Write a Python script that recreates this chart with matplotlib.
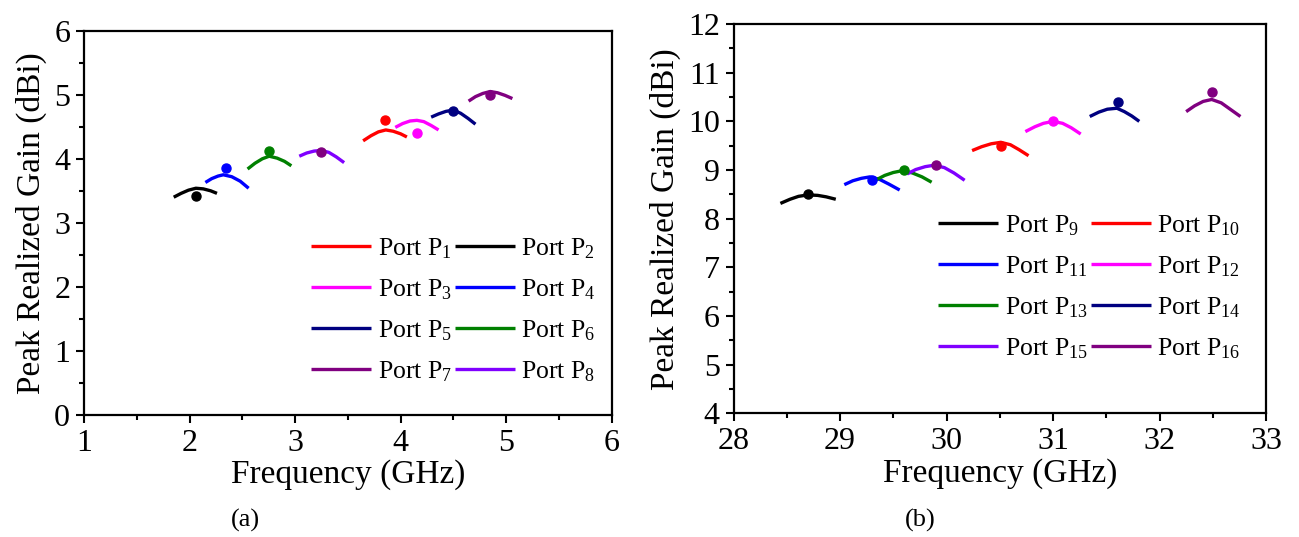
import matplotlib
matplotlib.use('Agg')
import matplotlib.pyplot as plt
from matplotlib.ticker import MultipleLocator

plt.rcParams['font.family'] = ['Liberation Serif', 'DejaVu Serif']
plt.rcParams['mathtext.fontset'] = 'custom'
plt.rcParams['mathtext.rm'] = 'Liberation Serif'
plt.rcParams['mathtext.it'] = 'Liberation Serif:italic'

# (a) low band, frequency in GHz, gain in dBi
ports_a = [1, 2, 3, 4, 5, 6, 7, 8]
colors_a = ['#ff0000', '#000000', '#ff00ff', '#0000ff', '#000080', '#008000', '#800080', '#8000ff']
freq_a = [
    [3.645, 3.72, 3.79, 3.86, 3.93, 4.00, 4.06],
    [1.85, 1.92, 1.99, 2.06, 2.13, 2.20, 2.26],
    [3.95, 4.02, 4.09, 4.155, 4.22, 4.29, 4.36],
    [2.15, 2.21, 2.27, 2.32, 2.40, 2.48, 2.56],
    [4.29, 4.36, 4.43, 4.50, 4.57, 4.64, 4.71],
    [2.55, 2.62, 2.69, 2.755, 2.83, 2.90, 2.965],
    [4.645, 4.71, 4.78, 4.85, 4.92, 4.99, 5.06],
    [3.04, 3.11, 3.18, 3.25, 3.32, 3.39, 3.465],
]
gain_a = [
    [4.28, 4.36, 4.42, 4.45, 4.43, 4.39, 4.34],
    [3.40, 3.46, 3.51, 3.54, 3.53, 3.50, 3.46],
    [4.49, 4.55, 4.59, 4.60, 4.58, 4.52, 4.45],
    [3.63, 3.69, 3.73, 3.75, 3.72, 3.65, 3.54],
    [4.65, 4.70, 4.74, 4.76, 4.71, 4.63, 4.54],
    [3.84, 3.93, 4.00, 4.04, 4.01, 3.96, 3.89],
    [4.90, 4.97, 5.02, 5.05, 5.03, 4.99, 4.94],
    [4.04, 4.09, 4.12, 4.13, 4.10, 4.03, 3.94],
]
dot_f_a = [3.85, 2.06, 4.155, 2.35, 4.50, 2.755, 4.85, 3.25]
dot_g_a = [4.60, 3.42, 4.40, 3.85, 4.75, 4.12, 5.00, 4.10]
dot_c_a = ['#ff0000', '#000000', '#ff00ff', '#0000ff', '#000080', '#008000', '#800080', '#800080']

# (b) mm-wave band
ports_b = [9, 10, 11, 12, 13, 14, 15, 16]
colors_b = ['#000000', '#ff0000', '#0000ff', '#ff00ff', '#008000', '#000080', '#8000ff', '#800080']
freq_b = [
    [28.44, 28.53, 28.61, 28.70, 28.79, 28.87, 28.96],
    [30.24, 30.33, 30.42, 30.51, 30.60, 30.68, 30.77],
    [29.04, 29.12, 29.20, 29.28, 29.37, 29.46, 29.56],
    [30.74, 30.83, 30.91, 31.00, 31.09, 31.17, 31.26],
    [29.34, 29.42, 29.50, 29.59, 29.68, 29.77, 29.86],
    [31.345, 31.43, 31.51, 31.60, 31.67, 31.74, 31.81],
    [29.63, 29.71, 29.80, 29.885, 29.98, 30.07, 30.17],
    [32.25, 32.33, 32.41, 32.49, 32.58, 32.67, 32.76],
]
gain_b = [
    [8.315, 8.40, 8.46, 8.49, 8.48, 8.45, 8.40],
    [9.40, 9.48, 9.54, 9.57, 9.52, 9.42, 9.295],
    [8.70, 8.78, 8.83, 8.86, 8.81, 8.71, 8.59],
    [9.79, 9.89, 9.96, 10.00, 9.96, 9.87, 9.74],
    [8.80, 8.89, 8.95, 8.99, 8.94, 8.86, 8.75],
    [10.10, 10.19, 10.25, 10.27, 10.20, 10.11, 10.00],
    [8.92, 9.01, 9.07, 9.10, 9.05, 8.94, 8.79],
    [10.20, 10.32, 10.41, 10.45, 10.38, 10.24, 10.10],
]
dot_f_b = [28.70, 30.51, 29.30, 31.00, 29.60, 31.61, 29.90, 32.49]
dot_g_b = [8.50, 9.50, 8.80, 10.00, 9.00, 10.40, 9.10, 10.60]
dot_c_b = ['#000000', '#ff0000', '#0000ff', '#ff00ff', '#008000', '#000080', '#800080', '#800080']

fig = plt.figure(figsize=(12.99, 5.37), dpi=100)
ax1 = fig.add_axes([0.0647, 0.2272, 0.4061, 0.7157])
ax2 = fig.add_axes([0.5647, 0.2300, 0.4099, 0.7253])


def draw(ax, ports, colors, freq, gain, df, dg, dc, xlim, ylim, legpos):
    lines = []
    for p, c, f, g in zip(ports, colors, freq, gain):
        ln, = ax.plot(f, g, color=c, lw=2.4, solid_capstyle='butt',
                      solid_joinstyle='round', label='Port P$_{%d}$' % p)
        lines.append(ln)
    for f, g, c in zip(df, dg, dc):
        ax.plot(f, g, 'o', color=c, ms=6.5, zorder=3)
    ax.set_xlim(*xlim)
    ax.set_ylim(*ylim)
    ax.xaxis.set_major_locator(MultipleLocator(1))
    ax.yaxis.set_major_locator(MultipleLocator(1))
    ax.xaxis.set_minor_locator(MultipleLocator(0.5))
    ax.yaxis.set_minor_locator(MultipleLocator(0.5))
    ax.tick_params(which='both', direction='out', width=1.5, labelsize=23,
                   top=False, right=False)
    ax.tick_params(which='major', length=6, pad=4)
    ax.tick_params(which='minor', length=3.5)
    for s in ax.spines.values():
        s.set_linewidth(1.6)
    ax.set_xlabel('Frequency (GHz)', fontsize=24, labelpad=1)
    ax.set_ylabel('Peak Realized Gain (dBi)', fontsize=24, labelpad=5)
    # legend filled row by row: column 1 takes the even entries
    order = list(range(0, 8, 2)) + list(range(1, 8, 2))
    ax.legend([lines[i] for i in order], [lines[i].get_label() for i in order],
              ncol=2, loc='lower left', bbox_to_anchor=legpos, frameon=False,
              fontsize=18.5, handlelength=2.35, handletextpad=0.25,
              columnspacing=0.1, labelspacing=0.64, borderpad=0,
              borderaxespad=0)


draw(ax1, ports_a, colors_a, freq_a, gain_a, dot_f_a, dot_g_a, dot_c_a,
     (1, 6), (0, 6), (0.430, 0.081))
draw(ax2, ports_b, colors_b, freq_b, gain_b, dot_f_b, dot_g_b, dot_c_b,
     (28, 33), (4, 12), (0.384, 0.135))

fig.text(245 / 1299, 1 - 520 / 537, '(a)', fontsize=19, ha='center', va='center')
fig.text(920 / 1299, 1 - 520 / 537, '(b)', fontsize=19, ha='center', va='center')

fig.savefig('out.png', dpi=100)
